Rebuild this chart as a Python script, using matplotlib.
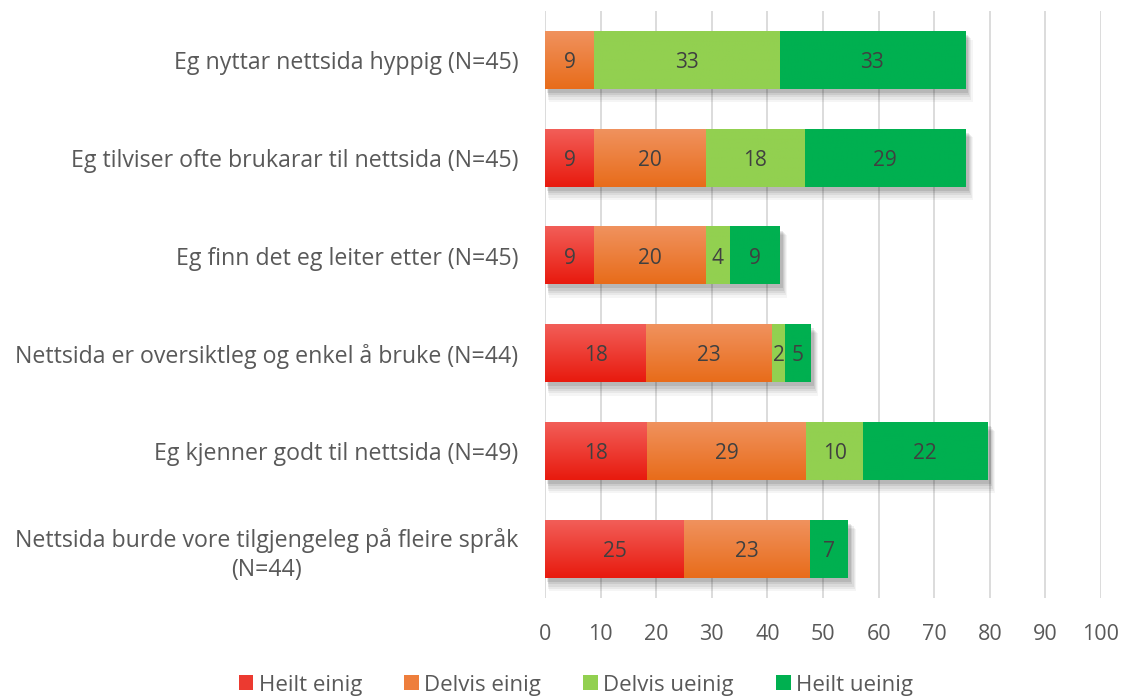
import matplotlib
matplotlib.use("Agg")
import matplotlib.pyplot as plt
import numpy as np
from matplotlib.patches import Rectangle
from matplotlib.colors import to_rgb

categories = [
    "Eg nyttar nettsida hyppig (N=45)",
    "Eg tilviser ofte brukarar til nettsida (N=45)",
    "Eg finn det eg leiter etter (N=45)",
    "Nettsida er oversiktleg og enkel å bruke (N=44)",
    "Eg kjenner godt til nettsida (N=49)",
    "Nettsida burde vore tilgjengeleg på fleire språk\n(N=44)",
]
series_names = ["Heilt einig", "Delvis einig", "Delvis ueinig", "Heilt ueinig"]
heilt_einig = [0.0, 8.9, 8.9, 18.2, 18.4, 25.0]
delvis_einig = [8.9, 20.0, 20.0, 22.7, 28.6, 22.7]
delvis_ueinig = [33.3, 17.8, 4.4, 2.3, 10.2, 0.0]
heilt_ueinig = [33.3, 28.9, 8.9, 4.5, 22.4, 6.8]
x_ticks = list(range(0, 101, 10))

series = [heilt_einig, delvis_einig, delvis_ueinig, heilt_ueinig]
# (top colour, bottom colour) for gradients
colors = [("#F25E58", "#E81A0E"), ("#F0925E", "#E86C1A"),
          ("#92D050", "#92D050"), ("#00B050", "#00B050")]
legend_colors = ["#EC3A30", "#EE7E3C", "#92D050", "#00B050"]

plt.rcParams['font.family'] = ['Open Sans', 'DejaVu Sans']

fig = plt.figure(figsize=(11.27, 6.97), dpi=100)
ax = fig.add_axes([545/1127, 1-598/697, (1101-545)/1127, (598-11)/697])

n = len(categories)
ypos = np.arange(n)
h = 0.59

ax.set_xlim(0, 100)
ax.set_ylim(n - 0.5, -0.5)

# grid
for t in x_ticks:
    ax.axvline(t, color="#D9D9D9", lw=1.3, zorder=0)

# shadows
totals = np.sum(np.array(series), axis=0)
for i in range(n):
    for k, a in enumerate([0.04, 0.05, 0.06, 0.07, 0.09]):
        g = 4 - k
        ax.add_patch(Rectangle((0.4 + 0.06 * g, ypos[i] - h/2 + 0.04 + 0.012 * g),
                               totals[i] + 0.2 + 0.14 * g, h + 0.012 * g,
                               facecolor="black", alpha=a, lw=0, zorder=1))

left = np.zeros(n)
for s, vals in enumerate(series):
    top, bot = to_rgb(colors[s][0]), to_rgb(colors[s][1])
    grad = np.linspace(0, 1, 64)[:, None, None]
    img = (1 - grad) * np.array(top) + grad * np.array(bot)
    for i in range(n):
        v = vals[i]
        if v <= 0:
            continue
        y0 = ypos[i] - h/2
        ax.imshow(img, extent=(left[i], left[i] + v, y0 + h, y0), aspect='auto',
                  zorder=2, interpolation='bilinear')
        ax.text(left[i] + v/2, ypos[i], f"{int(v + 0.5)}", ha='center',
                va='center_baseline', fontsize=15, color="#404040", zorder=4)
    left += np.array(vals)

ax.set_xlim(0, 100)
ax.set_ylim(n - 0.5, -0.5)
ax.set_xticks(x_ticks)
ax.set_yticks(ypos)
ax.set_yticklabels(categories, fontsize=16.7, color="#595959", linespacing=1.3)
ax.tick_params(axis='x', labelsize=15.5, labelcolor="#595959", length=0, pad=19)
ax.tick_params(axis='y', length=0, pad=19)
for lab in ax.get_yticklabels():
    lab.set_multialignment('center')
for sp in ax.spines.values():
    sp.set_visible(False)

handles = [Rectangle((0, 0), 1, 1, facecolor=c, lw=0) for c in legend_colors]
fig.legend(handles, series_names, loc='center', bbox_to_anchor=(576/1127, 1-685/697),
           ncol=4, frameon=False, fontsize=16, labelcolor="#595959",
           handlelength=0.65, handleheight=0.65, handletextpad=0.25, columnspacing=1.9)

fig.savefig("out.png", dpi=100)
